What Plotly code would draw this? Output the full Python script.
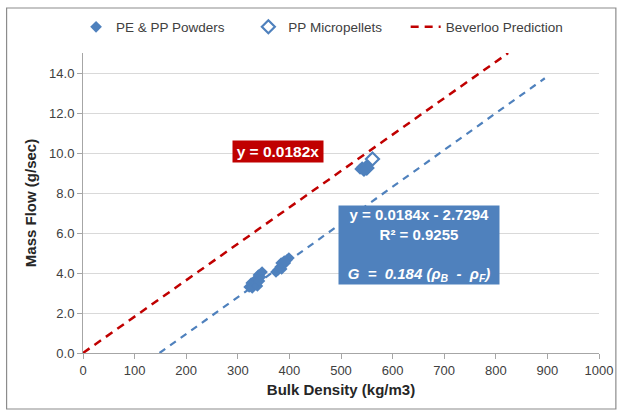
import plotly.graph_objects as go

# Data
powder_x = [322, 326, 330, 333, 336, 340, 344, 347, 328, 338, 342,
            374, 378, 382, 385, 388, 392, 395, 399, 384, 390,
            537, 541, 545, 548, 550, 553, 544]
powder_y = [3.3, 3.5, 3.4, 3.6, 3.7, 3.9, 3.8, 4.05, 3.25, 3.35, 3.6,
            4.05, 4.15, 4.3, 4.2, 4.45, 4.5, 4.65, 4.75, 4.5, 4.6,
            9.2, 9.3, 9.1, 9.35, 9.2, 9.25, 9.1]
pellet_x = [550, 561]
pellet_y = [9.25, 9.7]

beverloo_slope = 0.0182
beverloo_xrange = [0, 824]
fit_slope = 0.0184
fit_intercept = -2.7294
fit_xrange = [148.3, 895]

x_ticks = [0, 100, 200, 300, 400, 500, 600, 700, 800, 900, 1000]
y_ticks = [0, 2, 4, 6, 8, 10, 12, 14]
y_ticklabels = [f"{v:.1f}" for v in y_ticks]

BLUE = "#4F81BD"
RED = "#C00000"
FONT = "Liberation Sans, Arial, sans-serif"
NB = "\u00a0"

fig = go.Figure()

# trendline (no legend)
fig.add_trace(go.Scatter(
    x=fit_xrange, y=[fit_slope * v + fit_intercept for v in fit_xrange],
    mode="lines", line=dict(color=BLUE, width=2.2, dash="7px,6px"),
    showlegend=False, hoverinfo="skip"))

fig.add_trace(go.Scatter(
    x=pellet_x, y=pellet_y, mode="markers", name="PP Micropellets" + NB * 5,
    legendrank=2,
    marker=dict(symbol="diamond-open", size=10, color=BLUE, line=dict(width=2.2))))

fig.add_trace(go.Scatter(
    x=powder_x, y=powder_y, mode="markers", name="PE & PP Powders" + NB * 5,
    legendrank=1,
    marker=dict(symbol="diamond", size=9, color=BLUE)))

fig.add_trace(go.Scatter(
    x=beverloo_xrange, y=[beverloo_slope * v for v in beverloo_xrange],
    mode="lines", name="Beverloo Prediction", legendrank=3,
    line=dict(color=RED, width=2.5, dash="8px,6px")))

# annotations
fig.add_annotation(
    x=377, y=10.06, xref="x", yref="y",
    text="<b>y = 0.0182x</b>", showarrow=False,
    font=dict(family=FONT, size=15.5, color="white"),
    bgcolor=RED, width=88, height=19, borderpad=1)

fig.add_annotation(
    x=652, y=5.42, xref="x", yref="y",
    text="<b>y = 0.0184x - 2.7294<br>R² = 0.9255<br> <br><i>G  =  0.184 (ρ<sub>B</sub>  -  ρ<sub>F</sub>)</i></b>",
    showarrow=False, align="center",
    font=dict(family=FONT, size=15, color="white"),
    bgcolor=BLUE, width=158, height=76, borderpad=1)

# outer border
L, R, T, B = 83, 22, 53, 58
W, H = 625, 411
pw, ph = W - L - R, H - T - B
fig.add_shape(type="rect", xref="paper", yref="paper",
              x0=(6 - L) / pw, x1=(620 - L) / pw,
              y0=-(409 - (T + ph)) / ph, y1=(T + ph - 8) / ph,
              line=dict(color="#8C8C8C", width=1.2), fillcolor="rgba(0,0,0,0)",
              layer="below")

fig.update_layout(
    width=W, height=H,
    margin=dict(l=L, r=R, t=T, b=B),
    paper_bgcolor="white", plot_bgcolor="white",
    font=dict(family=FONT, size=13, color="#404040"),
    legend=dict(orientation="h", x=(76 - L) / pw, xanchor="left",
                y=(T + ph - 27) / ph, yanchor="middle",
                font=dict(family=FONT, size=13.5, color="#404040"),
                bgcolor="rgba(0,0,0,0)"),
    xaxis=dict(range=[0, 1000], tickvals=x_ticks, showgrid=False,
               showline=True, linecolor="#A6A6A6", linewidth=1,
               ticks="outside", ticklen=5, tickcolor="#A6A6A6",
               zeroline=False, tickfont=dict(size=13, color="#404040"),
               title=dict(text="<b>Bulk Density (kg/m3)</b>",
                          font=dict(size=15, color="#262626"), standoff=7)),
    yaxis=dict(range=[0, 15], tickvals=y_ticks, ticktext=y_ticklabels,
               showgrid=True, gridcolor="#D9D9D9", gridwidth=1,
               showline=True, linecolor="#A6A6A6", linewidth=1,
               ticks="outside", ticklen=5, tickcolor="#A6A6A6",
               zeroline=False, tickfont=dict(size=13, color="#404040"),
               title=dict(text="<b>Mass Flow (g/sec)</b>",
                          font=dict(size=15, color="#262626"), standoff=8)),
)

fig.write_html("out.html")
